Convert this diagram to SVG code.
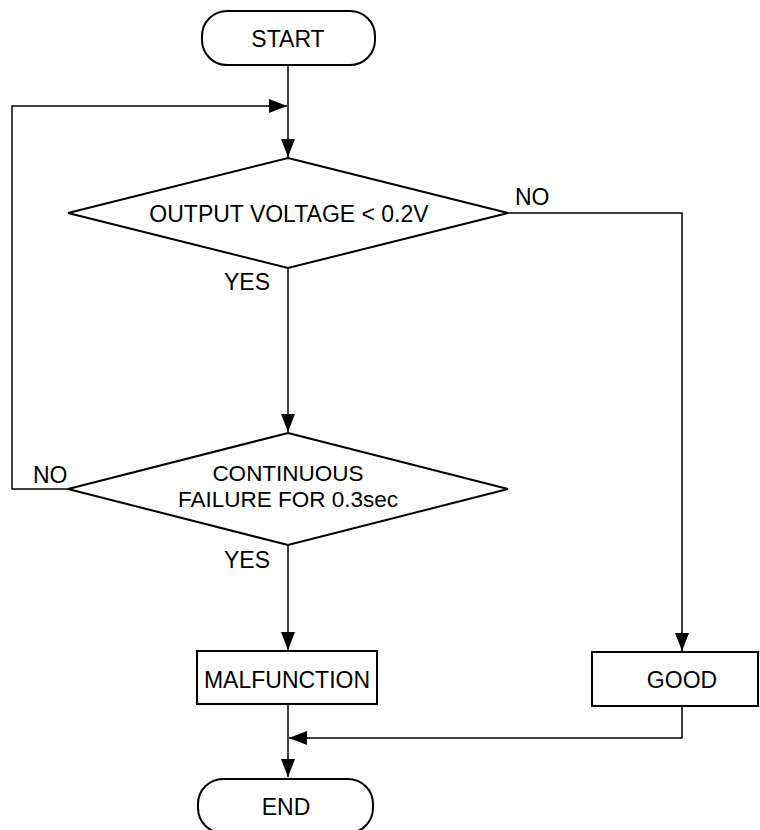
<svg xmlns="http://www.w3.org/2000/svg" width="760" height="830" viewBox="0 0 760 830">
<defs>
<marker id="arr" markerUnits="userSpaceOnUse" markerWidth="18" markerHeight="14" refX="18" refY="7" orient="auto">
<path d="M0,0 L18,7 L0,14 z" fill="#000"/>
</marker>
<style>
.shape{fill:#fff;stroke:#000;stroke-width:2}
.line{fill:none;stroke:#000;stroke-width:1.5;marker-end:url(#arr)}
text{font-family:"Liberation Sans",Arial,sans-serif;font-size:23px;fill:#000}
.c{text-anchor:middle}
.two{font-size:22.5px}
</style>
</defs>
<rect width="760" height="830" fill="#fff"/>
<g id="connectors">
<path class="line" d="M288,65 V157"/>
<path class="line" d="M68,489 H12 V106 H287"/>
<path class="line" d="M288,268 V432"/>
<path class="line" d="M508,213 H682 V651"/>
<path class="line" d="M288,545 V650"/>
<path class="line" d="M288,704 V777"/>
<path class="line" d="M682,706 V738 H289"/>
<text x="515" y="205">NO</text>
<text x="270" y="290" text-anchor="end">YES</text>
<text x="33" y="483">NO</text>
<text x="270" y="568" text-anchor="end">YES</text>
</g>
<g id="start">
<rect class="shape" x="202" y="11" width="173" height="54" rx="25"/>
<text class="c" x="288" y="47">START</text>
</g>
<g id="check_voltage">
<polygon class="shape" points="288,158 508,213 288,268 68,213"/>
<text class="c" x="289" y="222">OUTPUT VOLTAGE &lt; 0.2V</text>
</g>
<g id="check_continuous">
<polygon class="shape" points="288,433 508,489 288,545 68,489"/>
<text class="c two" x="288" y="481">CONTINUOUS</text>
<text class="c two" x="288" y="507">FAILURE FOR 0.3sec</text>
</g>
<g id="malfunction">
<rect class="shape" x="197" y="651" width="180" height="53"/>
<text class="c" x="287" y="688">MALFUNCTION</text>
</g>
<g id="good">
<rect class="shape" x="592" y="652" width="166" height="54"/>
<text class="c" x="682" y="688">GOOD</text>
</g>
<g id="end">
<rect class="shape" x="198" y="779" width="175" height="54" rx="25"/>
<text class="c" x="286" y="815">END</text>
</g>
</svg>
